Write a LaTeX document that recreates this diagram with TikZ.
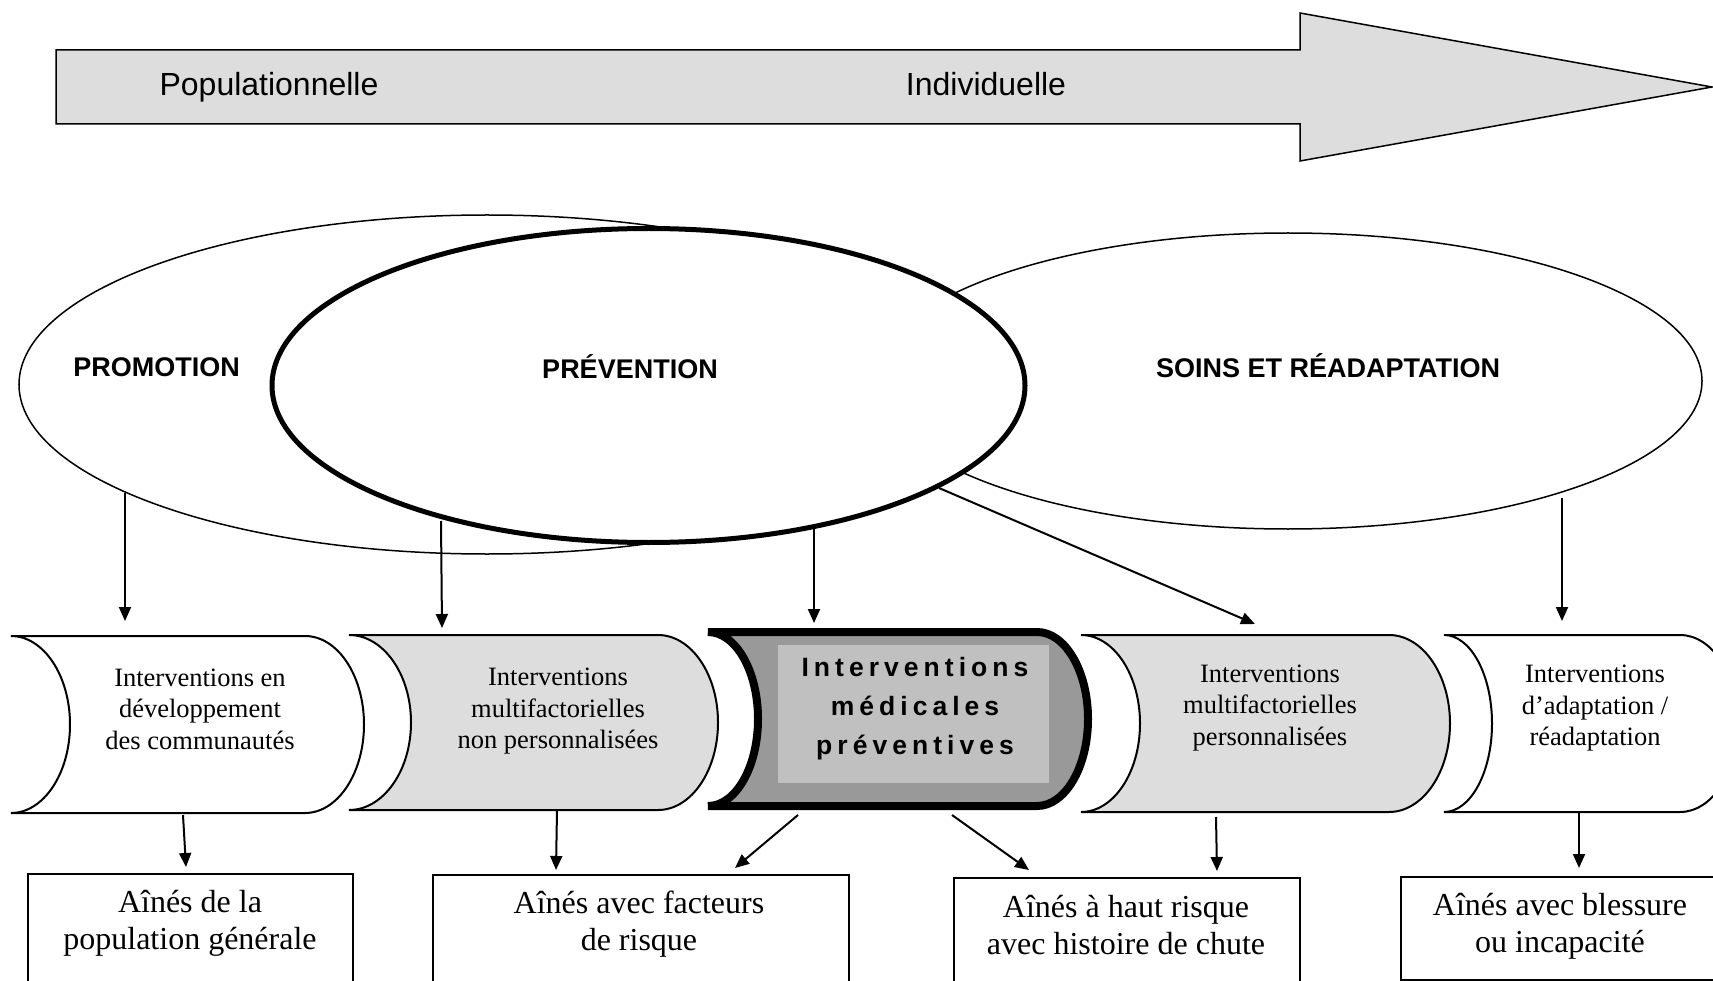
\documentclass[tikz,border=0pt]{standalone}
\usepackage{fontspec}
\setmainfont{Liberation Serif}
\newfontfamily\sansf{Liberation Sans}
\newfontfamily\sansfsp[LetterSpace=19]{Liberation Sans}
\usetikzlibrary{arrows.meta,shapes.geometric}
\definecolor{lightg}{RGB}{221,221,221}
\definecolor{midg}{RGB}{153,153,153}
\definecolor{innerg}{RGB}{192,192,192}
% #1 style, #2 L, #3 T, #4 B, #5 R (end of straight top), #6 rxL, #7 rxR, #8 half height
\newcommand\mystoredshape[8]{%
  \path[#1] (#2,#3) -- (#5,#3)
    arc[start angle=-90,end angle=90,x radius=#7,y radius=#8]
    -- (#2,#4)
    arc[start angle=90,end angle=-90,x radius=#6,y radius=#8] -- cycle;}
\begin{document}
\begin{tikzpicture}[x=1pt,y=-1pt,
  conn/.style={line width=2pt,-{Triangle[length=14pt,width=12pt]}},
  ell/.style={draw,fill=white,line width=1.5pt,ellipse,inner sep=0pt,outer sep=0pt},
  toplab/.style={font=\sansf\fontsize{32}{38}\selectfont,anchor=base},
  lab/.style={font=\sansf\bfseries\fontsize{27}{32}\selectfont},
  stxt/.style={font=\fontsize{26.5}{31.5}\selectfont,align=center},
  mtxt/.style={font=\sansfsp\bfseries\fontsize{26.5}{39}\selectfont,align=center},
  btxt/.style={font=\fontsize{32}{37}\selectfont,align=center},
  bbox/.style={draw,line width=2pt,fill=white,inner sep=0pt,outer sep=0pt,anchor=north west},
  shp/.style={draw,line width=2pt},
]
\useasboundingbox (0,0) rectangle (1713,981);
\clip (0,0) rectangle (1713,981);
\fill[white] (0,0) rectangle (1713,981);

% big arrow
\path[draw,fill=lightg,line width=1.5pt,line join=miter]
  (56,50) -- (1300,50) -- (1300,13) -- (1712,87) -- (1300,161) -- (1300,124) -- (56,124) -- cycle;
\node[toplab] (pop) at (269,96) {Populationnelle};
\node[toplab] (ind) at (986,96) {Individuelle};

% ellipses
\node[ell,minimum width=936pt,minimum height=339pt] (promo) at (487,384.5) {};
\node[ell,minimum width=828pt,minimum height=296pt] (soins) at (1288,381) {};
\node[ell,line width=5pt,minimum width=753pt,minimum height=314pt] (prev) at (648.5,385.5) {};
\node[lab] (lpromo) at (156.5,367) {PROMOTION};
\node[lab] (lprev) at (630,367) {PRÉVENTION};
\node[lab] (lsoins) at (1328,366) {SOINS ET RÉADAPTATION};

% stored-data shapes
\mystoredshape{shp,fill=white}{11}{636}{813}{305}{59}{59}{88.5}
\mystoredshape{shp,fill=lightg}{349}{635}{810}{658}{62}{60}{87.5}
\mystoredshape{draw,line width=8pt,fill=midg}{708}{632}{806}{1037}{50}{51}{87}
\mystoredshape{shp,fill=lightg}{1081}{635}{812}{1389}{59}{61}{88.5}
\mystoredshape{shp,fill=white}{1444}{635}{812}{1680}{48}{58}{88.5}
\node[fill=innerg,minimum width=271pt,minimum height=138pt,inner sep=0pt,outer sep=0pt] (inner) at (913.5,714) {};

\node[stxt] (s1) at (200,709) {Interventions en\\développement\\des communautés};
\node[stxt] (s2) at (558,711.5) {Interventions\\multifactorielles\\non personnalisées};
\node[mtxt] (s3) at (915,709) {Interventions\\médicales\\préventives};
\node[stxt] (s4) at (1270,708) {Interventions\\multifactorielles\\personnalisées};
\node[stxt] (s5) at (1595,708.5) {Interventions\\d’adaptation /\\réadaptation};

% bottom boxes
\node[bbox,minimum width=325pt,minimum height=140pt] (b1) at (28,874) {};
\node[bbox,minimum width=416pt,minimum height=140pt] (b2) at (433,875) {};
\node[bbox,minimum width=346pt,minimum height=140pt] (b3) at (954,878) {};
\node[bbox,minimum width=340pt,minimum height=103pt] (b4) at (1401,877) {};
\node[btxt] (t1) at (190,923) {Aînés de la\\population générale};
\node[btxt] (t2) at (639,924.5) {Aînés avec facteurs\\de risque};
\node[btxt] (t3) at (1126,925.5) {Aînés à haut risque\\avec histoire de chute};
\node[btxt] (t4) at (1560,926) {Aînés avec blessure\\ou incapacité};

% connector end points
\coordinate (p1) at (125,493);  \coordinate (q1) at (125,621);
\coordinate (p2) at (441,521);  \coordinate (q2) at (442,628);
\coordinate (p3) at (814,529);  \coordinate (q3) at (814,623);
\coordinate (p4) at (939,488);  \coordinate (q4) at (1255,624);
\coordinate (p5) at (1562,498); \coordinate (q5) at (1562,621);
\coordinate (u1) at (183,815);  \coordinate (v1) at (186,867);
\coordinate (u2) at (557,810);  \coordinate (v2) at (556,870);
\coordinate (u3) at (798,815);  \coordinate (v3) at (735,868);
\coordinate (u4) at (952,815);  \coordinate (v4) at (1029,870);
\coordinate (u5) at (1216,817); \coordinate (v5) at (1217,871);
\coordinate (u6) at (1579,812); \coordinate (v6) at (1579,868);

\draw[conn] (p1) -- (q1);
\draw[conn] (p2) -- (q2);
\draw[conn] (p3) -- (q3);
\draw[conn] (p4) -- (q4);
\draw[conn] (p5) -- (q5);
\draw[conn] (u1) -- (v1);
\draw[conn] (u2) -- (v2);
\draw[conn] (u3) -- (v3);
\draw[conn] (u4) -- (v4);
\draw[conn] (u5) -- (v5);
\draw[conn] (u6) -- (v6);
\end{tikzpicture}
\end{document}
